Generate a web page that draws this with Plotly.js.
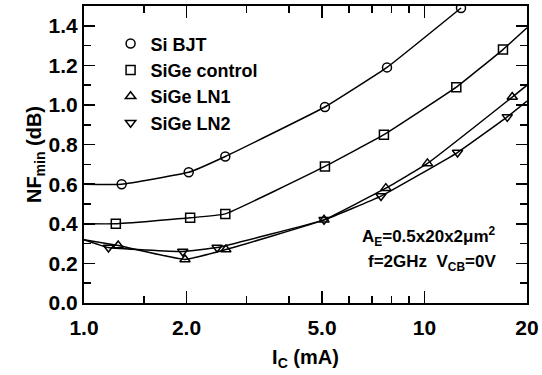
<!DOCTYPE html>
<html><head><meta charset="utf-8">
<script src="https://cdn.plot.ly/plotly-3.0.1.min.js"></script>
<style>body{margin:0;background:#fff}#c{width:542px;height:375px}</style>
</head><body><div id="c"></div>
<script>
// Measured points (I_C in mA, NFmin in dB)
const siBjtX = [1.29, 2.03, 2.6, 5.1, 7.76, 12.8];
const siBjtY = [0.60, 0.66, 0.74, 0.99, 1.19, 1.49];
const ctrlX = [1.24, 2.05, 2.6, 5.1, 7.6, 12.4, 17.0];
const ctrlY = [0.40, 0.43, 0.45, 0.69, 0.85, 1.09, 1.28];
const ln1X = [1.26, 1.98, 2.61, 5.07, 7.7, 10.2, 18.1];
const ln1Y = [0.29, 0.22, 0.27, 0.42, 0.58, 0.705, 1.04];
const ln2X = [1.18, 1.95, 2.46, 5.07, 7.45, 12.5, 17.5];
const ln2Y = [0.28, 0.26, 0.28, 0.42, 0.54, 0.76, 0.94];
// Curve end points at the frame edges
const siBjtStart = [1.0, 0.60];
const ctrlStart = [1.0, 0.40], ctrlEnd = [20, 1.39];
const ln1Start = [1.0, 0.32], ln1End = [20, 1.10];
const ln2Start = [1.0, 0.32], ln2End = [20, 1.02];
const names = ['Si BJT', 'SiGe control', 'SiGe LN1', 'SiGe LN2'];
const symbols = ['circle-open', 'square-open', 'triangle-up-open', 'triangle-down-open'];
const xTickVals = [1, 2, 5, 10, 20];
const xTickText = ['1.0', '2.0', '5.0', '10', '20'];
const xMinorVals = [1.5, 3, 4, 6, 7, 8, 9];
const yTickVals = [0, 0.2, 0.4, 0.6, 0.8, 1.0, 1.2, 1.4];
const yTickText = ['0.0', '0.2', '0.4', '0.6', '0.8', '1.0', '1.2', '1.4'];
const yMinorVals = [0.1, 0.3, 0.5, 0.7, 0.9, 1.1, 1.3];

const series = [
  {x: siBjtX, y: siBjtY, s: siBjtStart, e: null},
  {x: ctrlX, y: ctrlY, s: ctrlStart, e: ctrlEnd},
  {x: ln1X, y: ln1Y, s: ln1Start, e: ln1End},
  {x: ln2X, y: ln2Y, s: ln2Start, e: ln2End}
];
const traces = [];
series.forEach((d, i) => {
  const lx = [d.s[0]].concat(d.x), ly = [d.s[1]].concat(d.y);
  if (d.e) { lx.push(d.e[0]); ly.push(d.e[1]); }
  traces.push({x: lx, y: ly, mode: 'lines', showlegend: false, hoverinfo: 'skip',
    line: {color: '#000', width: 1.5, shape: 'spline', smoothing: 0.3}});
});
series.forEach((d, i) => {
  traces.push({x: d.x, y: d.y, mode: 'markers', name: names[i], legendgroup: 'g' + i,
    marker: {symbol: symbols[i], size: 9, color: '#000', line: {width: 1.5, color: '#000'}},
    cliponaxis: true});
});

const layout = {
  width: 542, height: 375,
  margin: {l: 84, r: 15, t: 6, b: 72},
  paper_bgcolor: '#fff', plot_bgcolor: '#fff',
  font: {family: 'Liberation Sans, Arial, sans-serif', color: '#000', weight: 'bold'},
  showlegend: true,
  legend: {x: 0.06, y: 0.935, xanchor: 'left', yanchor: 'top', bgcolor: 'rgba(0,0,0,0)',
    font: {size: 18, weight: 'bold'}, tracegroupgap: 0, itemwidth: 30},
  xaxis: {type: 'log', range: [0, Math.log10(20)], tickmode: 'array', tickvals: xTickVals,
    ticktext: xTickText, ticks: 'inside', ticklen: 12, tickwidth: 1.5, tickcolor: '#000',
    minor: {tickmode: 'array', tickvals: xMinorVals, ticks: 'inside', ticklen: 7, tickwidth: 1.5, tickcolor: '#000'},
    showgrid: false, zeroline: false, showline: true, linewidth: 2, linecolor: '#000', mirror: 'ticks',
    tickfont: {size: 21, weight: 'bold'}, ticklabelstandoff: 5,
    title: {text: 'I<sub>C</sub> (mA)', font: {size: 20, weight: 'bold'}, standoff: 12}},
  yaxis: {range: [0, 1.5], tickmode: 'array', tickvals: yTickVals, ticktext: yTickText,
    ticks: 'inside', ticklen: 11, tickwidth: 1.5, tickcolor: '#000',
    minor: {tickmode: 'array', tickvals: yMinorVals, ticks: 'inside', ticklen: 7, tickwidth: 1.5, tickcolor: '#000'},
    showgrid: false, zeroline: false, showline: true, linewidth: 2, linecolor: '#000', mirror: 'ticks',
    tickfont: {size: 21, weight: 'bold'},
    title: {text: 'NF<sub>min</sub> (dB)', font: {size: 20, weight: 'bold'}, standoff: 2}},
  annotations: [
    {xref: 'paper', yref: 'paper', x: 0.935, y: 0.225, xanchor: 'right', yanchor: 'middle', showarrow: false,
      text: 'A<sub>E</sub>=0.5x20x2μm<sup>2</sup>', font: {size: 17, weight: 'bold'}},
    {xref: 'paper', yref: 'paper', x: 0.935, y: 0.135, xanchor: 'right', yanchor: 'middle', showarrow: false,
      text: 'f=2GHz&nbsp;&nbsp;V<sub>CB</sub>=0V', font: {size: 17, weight: 'bold'}}
  ]
};
Plotly.newPlot('c', traces, layout, {displayModeBar: false, staticPlot: true});
</script></body></html>
